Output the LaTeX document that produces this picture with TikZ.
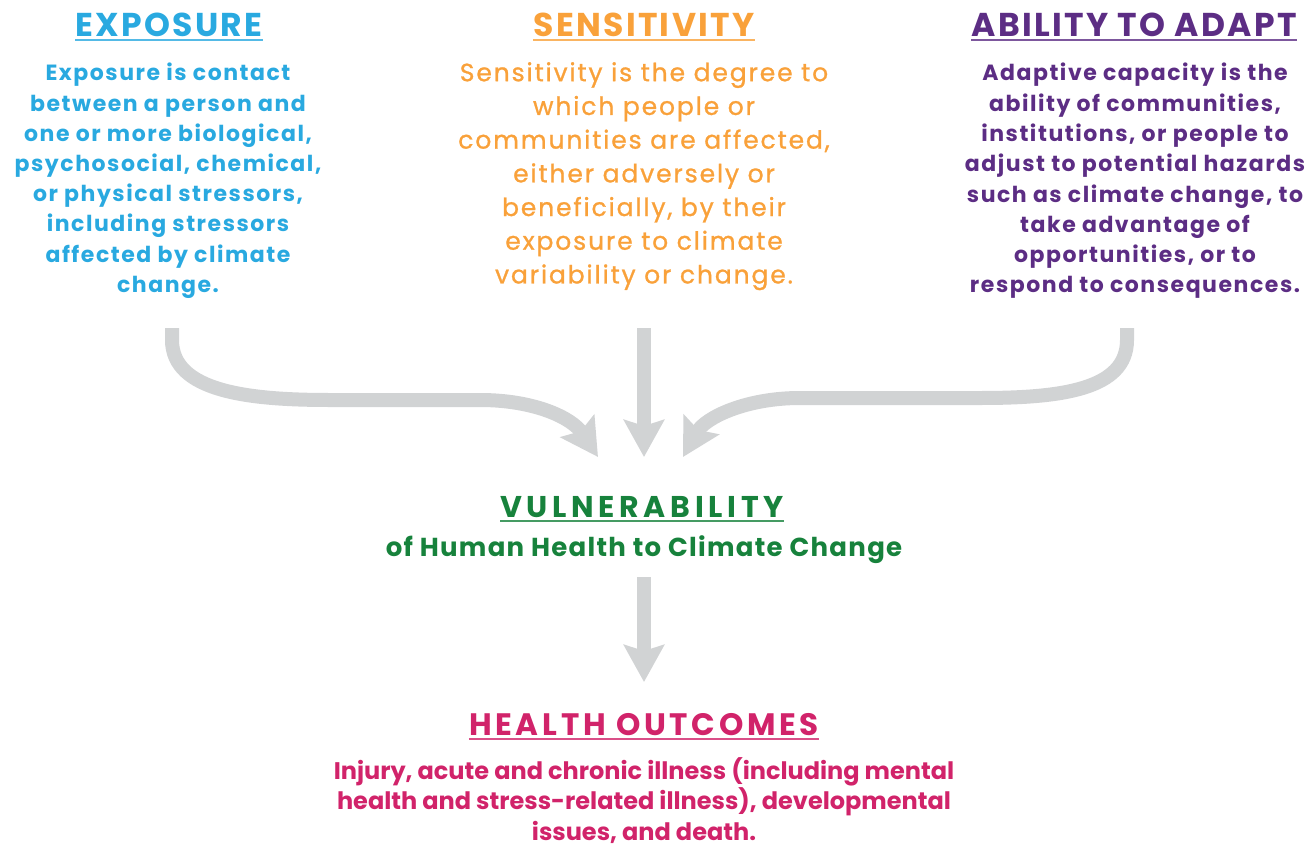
\documentclass[tikz,border=0pt]{standalone}
\usepackage{fontspec}
\setmainfont{Poppins}
\newfontfamily\pA{Poppins}[LetterSpace=7]
\newfontfamily\pV{Poppins}[LetterSpace=15.5]
\newfontfamily\pH{Poppins}[LetterSpace=12]
\newfontfamily\pS{Poppins}[LetterSpace=5]
\newfontfamily\pM{Poppins}[LetterSpace=7.5,FakeBold=1]
\newfontfamily\pN{Poppins}
\usetikzlibrary{arrows.meta}
\definecolor{cexp}{HTML}{29A9E0}
\definecolor{csen}{HTML}{F9A13A}
\definecolor{cada}{HTML}{5C2D84}
\definecolor{cvul}{HTML}{17823C}
\definecolor{chea}{HTML}{D1236A}
\definecolor{carrow}{HTML}{D1D3D4}
\begin{document}
\begin{tikzpicture}[x=1pt,y=-1pt,
  title/.style={inner sep=0pt,anchor=base,font=\pA\bfseries\fontsize{33}{40}\selectfont},
  body/.style={inner sep=0pt,anchor=north,align=center},
  ul/.style={line width=2pt},
  flow/.style={draw=carrow,line width=14pt,-{Stealth[length=37pt,width=40pt,inset=6pt]}}]
\useasboundingbox (0,0) rectangle (1313,845);
% titles
\node[title,text=cexp] (t1) at (169,37) {EXPOSURE};
\node[title,text=csen] (t2) at (644,37) {SENSITIVITY};
\node[title,text=cada] (t3) at (1134,37) {ABILITY TO ADAPT};
\draw[ul,cexp!80] ([yshift=-3.5pt]t1.base west) -- ([yshift=-3.5pt]t1.base east);
\draw[ul,csen!80] ([yshift=-3.5pt]t2.base west) -- ([yshift=-3.5pt]t2.base east);
\draw[ul,cada!80] ([yshift=-3.5pt]t3.base west) -- ([yshift=-3.5pt]t3.base east);
% bodies
\node[body,text=cexp,font=\pA\bfseries\fontsize{22}{30.2}\selectfont] (b1) at (168,63)
 {Exposure is contact\\between a person and\\one or more biological,\\psychosocial, chemical,\\or physical stressors,\\including stressors\\affected by climate\\change.};
\node[body,text=csen,font=\pM\fontsize{25}{33.7}\selectfont] (b2) at (644,62)
 {Sensitivity is the degree to\\which people or\\communities are affected,\\either adversely or\\beneficially, by their\\exposure to climate\\variability or change.};
\node[body,text=cada,font=\pA\bfseries\fontsize{22}{30.3}\selectfont] (b3) at (1135,63)
 {Adaptive capacity is the\\ability of communities,\\institutions, or people to\\adjust to potential hazards\\such as climate change, to\\take advantage of\\opportunities, or to\\respond to consequences.};
% vulnerability
\node[inner sep=0pt,anchor=base,text=cvul,font=\pV\bfseries\fontsize{30}{36}\selectfont] (t4) at (642,517) {VULNERABILITY};
\draw[ul,cvul!80] ([yshift=-4pt]t4.base west) -- ([yshift=-4pt]t4.base east);
\node[inner sep=0pt,anchor=base,text=cvul,font=\pS\bfseries\fontsize{26}{32}\selectfont] (s4) at (644,556) {of Human Health to Climate Change};
% health outcomes
\node[inner sep=0pt,anchor=base,text=chea,font=\pH\bfseries\fontsize{31}{38}\selectfont] (t5) at (644,735) {HEALTH OUTCOMES};
\draw[ul,chea!80] ([yshift=-4pt]t5.base west) -- ([yshift=-4pt]t5.base east);
\node[body,text=chea,font=\pN\bfseries\fontsize{24}{30.5}\selectfont] (b5) at (644,757)
 {Injury, acute and chronic illness (including mental\\health and stress-related illness), developmental\\issues, and death.};
% arrow coordinates
\coordinate (a1s) at (172,328);
\coordinate (a2s) at (644,328);
\coordinate (a3s) at (1127,328);
\coordinate (v1) at (598,457);
\coordinate (v2) at (644,457);
\coordinate (v3) at (683,457);
\coordinate (a4s) at (644,577);
\coordinate (h1) at (644,682);
\draw[flow] (a1s) -- (172,340) .. controls (172,392) and (250,400) .. (330,400) -- (480,400) .. controls (535,400) and (572,418) .. (v1);
\draw[flow] (a2s) -- (v2);
\draw[flow] (a3s) -- (1127,340) .. controls (1127,390) and (1060,398) .. (980,398) -- (800,398) .. controls (745,398) and (705,418) .. (v3);
\draw[flow] (a4s) -- (h1);
\end{tikzpicture}
\end{document}
